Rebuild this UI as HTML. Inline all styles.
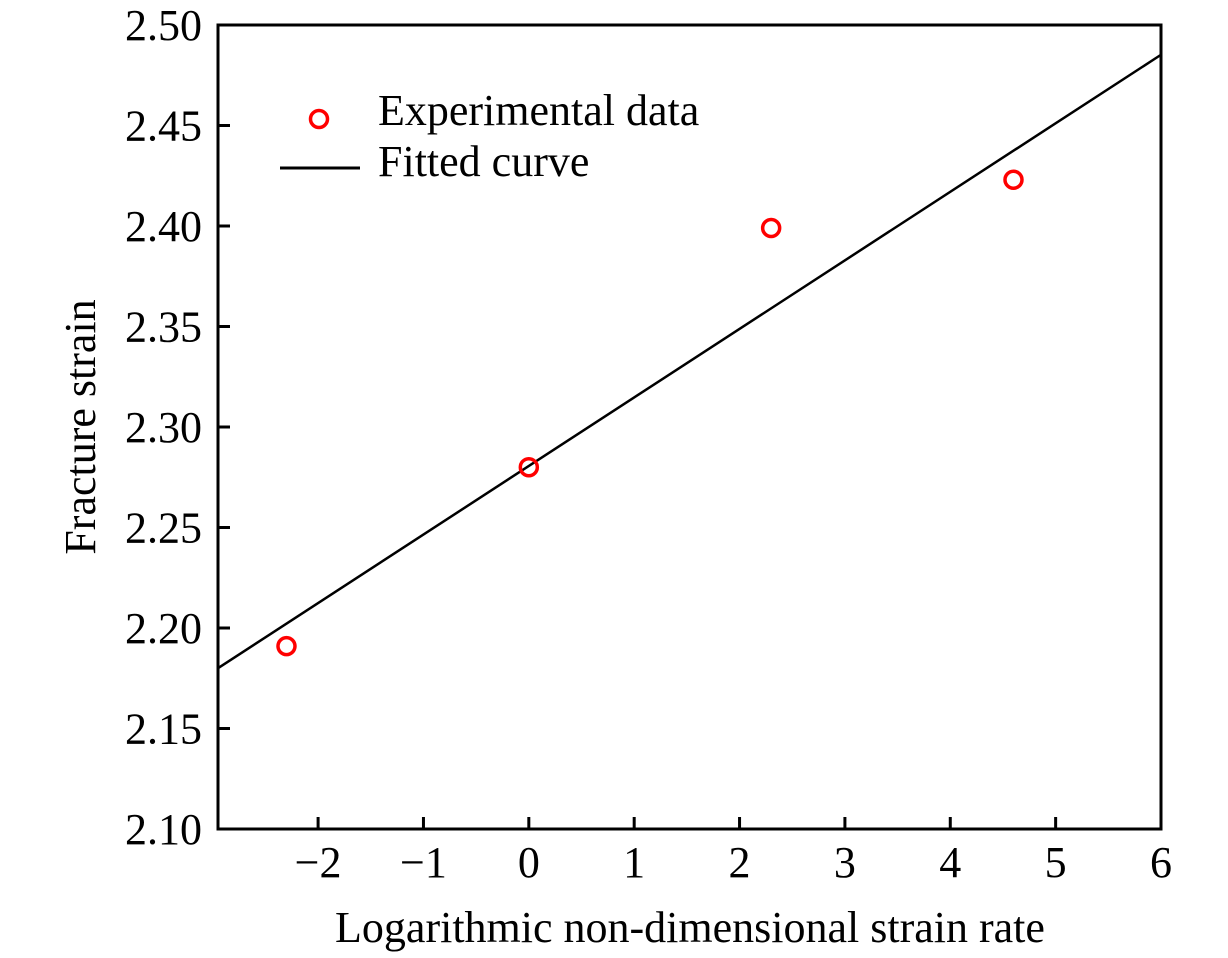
<!DOCTYPE html>
<html><head><meta charset="utf-8"><style>
body{margin:0;background:#fff;}
svg text{font-family:"Liberation Serif",serif;fill:#000;}
</style></head><body>
<svg id="chart" width="1228" height="953">
<rect x="218" y="25" width="943" height="804" fill="none" stroke="#000" stroke-width="3"/>
<g id="g"></g>
<g>
<circle cx="319" cy="119" r="8.5" fill="none" stroke="#f00" stroke-width="3.5"/>
<text x="378" y="125" font-size="44">Experimental data</text>
<line x1="280" y1="168" x2="360" y2="168" stroke="#000" stroke-width="3"/>
<text x="378" y="176" font-size="44">Fitted curve</text>
</g>
<text x="690" y="942" font-size="44" text-anchor="middle">Logarithmic non-dimensional strain rate</text>
<text transform="translate(95,427) rotate(-90)" font-size="44" text-anchor="middle">Fracture strain</text>
</svg>
<script>
const xTicks=[-2,-1,0,1,2,3,4,5,6];
const yTicks=[2.10,2.15,2.20,2.25,2.30,2.35,2.40,2.45,2.50];
const expX=[-2.3,0,2.3,4.6];
const expY=[2.191,2.28,2.399,2.423];
const fitSlope=[0.0341];
const fitIntercept=[2.2806];
const X0=-2.95,X1=6,Y0=2.10,Y1=2.50;
const L=218,R=1161,T=25,B=829;
const sx=v=>L+(v-X0)/(X1-X0)*(R-L);
const sy=v=>B-(v-Y0)/(Y1-Y0)*(B-T);
const g=document.getElementById('g');
const NS='http://www.w3.org/2000/svg';
function mk(t,a){const e=document.createElementNS(NS,t);for(const k in a)e.setAttribute(k,a[k]);g.appendChild(e);return e;}
xTicks.forEach(v=>{
 const l=mk('line',{x1:sx(v),x2:sx(v),y1:B,y2:B-12,stroke:'#000','stroke-width':3});
 
 
 const t=mk('text',{x:sx(v),y:B+48,'font-size':44,'text-anchor':'middle'});
 t.textContent=v<0?'\u2212'+(-v):String(v);
 
 
});
yTicks.forEach(v=>{
 const l=mk('line',{x1:L,x2:L+12,y1:sy(v),y2:sy(v),stroke:'#000','stroke-width':3});
 
 
 const t=mk('text',{x:L-16,y:sy(v)+15,'font-size':44,'text-anchor':'end'});
 t.textContent=v.toFixed(2);
 
 
});
const f=x=>fitIntercept[0]+fitSlope[0]*x;
const fl=mk('line',{x1:sx(X0),y1:sy(f(X0)),x2:sx(X1),y2:sy(f(X1)),stroke:'#000','stroke-width':2.5});


expX.forEach((x,i)=>{
 const c=mk('circle',{cx:sx(x),cy:sy(expY[i]),r:8.5,fill:'none',stroke:'#f00','stroke-width':3.5});
 
 
});
</script>
</body></html>
